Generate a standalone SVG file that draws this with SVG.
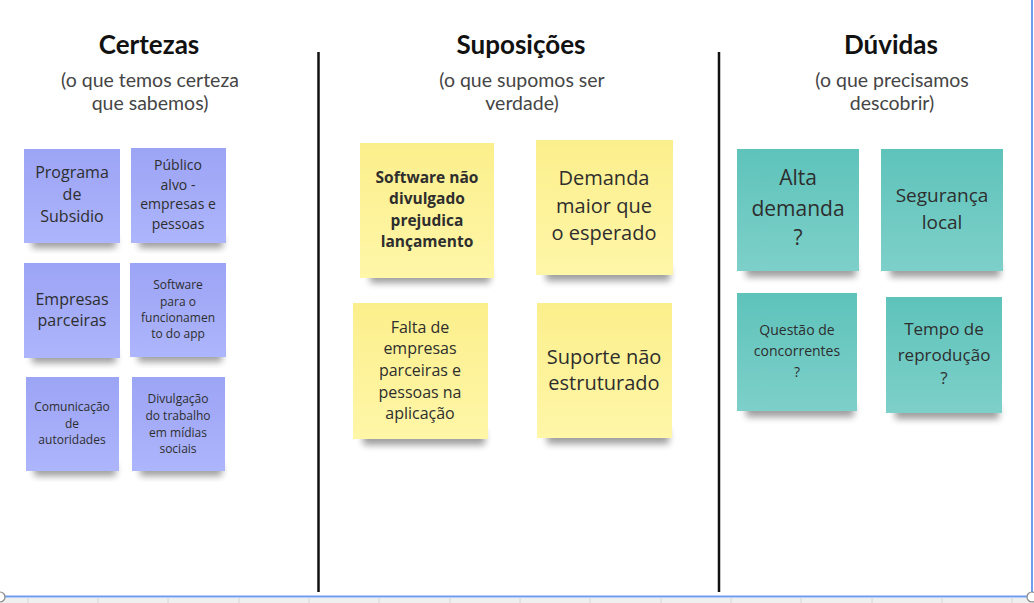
<svg xmlns="http://www.w3.org/2000/svg" width="1034" height="603" viewBox="0 0 1034 603">
<defs>
<linearGradient id="gP" x1="0" y1="0" x2="0" y2="1"><stop offset="0" stop-color="#9ca4f5"/><stop offset="1" stop-color="#adb5fc"/></linearGradient>
<linearGradient id="gY" x1="0" y1="0" x2="0" y2="1"><stop offset="0" stop-color="#fbef8c"/><stop offset="1" stop-color="#fff6a8"/></linearGradient>
<linearGradient id="gT" x1="0" y1="0" x2="0" y2="1"><stop offset="0" stop-color="#5ec3bb"/><stop offset="1" stop-color="#7dd0c9"/></linearGradient>
<filter id="sh" x="-20%" y="-50%" width="140%" height="200%"><feGaussianBlur stdDeviation="3.5"/></filter>
<style>
.shadow{fill:#000;opacity:0.38;filter:url(#sh)}
.np{fill:url(#gP)}
.ny{fill:url(#gY)}
.nt{fill:url(#gT)}
.t{font-family:"Open Sans","Noto Sans",sans-serif;fill:#2e2e2e;text-anchor:middle}
.h{font-family:Lato,"Liberation Sans",sans-serif;font-weight:bold;font-size:26px;fill:#111;text-anchor:middle}
.s{font-family:Lato,"Liberation Sans",sans-serif;font-size:19.5px;fill:#454545;text-anchor:middle}
.div{stroke:#111;stroke-width:2.5}
</style>
</defs>
<rect x="0" y="0" width="1034" height="603" fill="#ffffff"/>
<!-- bottom grid strip -->
<rect x="0" y="598" width="1034" height="5" fill="#efefef"/>
<g stroke="#d6d6d6" stroke-width="1">
<line x1="28" y1="598" x2="28" y2="603"/><line x1="98" y1="598" x2="98" y2="603"/><line x1="168" y1="598" x2="168" y2="603"/><line x1="239" y1="598" x2="239" y2="603"/><line x1="309" y1="598" x2="309" y2="603"/><line x1="379" y1="598" x2="379" y2="603"/><line x1="450" y1="598" x2="450" y2="603"/><line x1="520" y1="598" x2="520" y2="603"/><line x1="590" y1="598" x2="590" y2="603"/><line x1="661" y1="598" x2="661" y2="603"/><line x1="731" y1="598" x2="731" y2="603"/><line x1="801" y1="598" x2="801" y2="603"/><line x1="872" y1="598" x2="872" y2="603"/><line x1="942" y1="598" x2="942" y2="603"/><line x1="1012" y1="598" x2="1012" y2="603"/>
</g>
<!-- headers -->
<g id="header-certezas">
<text class="h" x="149" y="54">Certezas</text>
<text class="s" x="150" y="87">(o que temos certeza</text>
<text class="s" x="150" y="110">que sabemos)</text>
</g>
<g id="header-suposicoes">
<text class="h" x="521" y="54">Suposições</text>
<text class="s" x="522" y="87">(o que supomos ser</text>
<text class="s" x="522" y="110">verdade)</text>
</g>
<g id="header-duvidas">
<text class="h" x="891" y="54">Dúvidas</text>
<text class="s" x="892" y="87">(o que precisamos</text>
<text class="s" x="892" y="110">descobrir)</text>
</g>
<!-- dividers -->
<g id="dividers">
<line class="div" x1="318.5" y1="52" x2="318.5" y2="592"/>
<line class="div" x1="719" y1="52" x2="719" y2="592"/>
</g>
<!-- Certezas notes -->
<g id="n-programa">
<rect class="shadow" x="32" y="236" width="84" height="12"/>
<rect class="np" x="24" y="149" width="96" height="94"/>
<text class="t" font-size="16" x="72" y="178">Programa</text>
<text class="t" font-size="16" x="72" y="200">de</text>
<text class="t" font-size="16" x="72" y="222">Subsidio</text>
</g>
<g id="n-publico">
<rect class="shadow" x="139" y="236" width="84" height="12"/>
<rect class="np" x="131" y="148" width="95" height="95"/>
<text class="t" font-size="14" x="178" y="170">Público</text>
<text class="t" font-size="14" x="178" y="190">alvo -</text>
<text class="t" font-size="14" x="178" y="209">empresas e</text>
<text class="t" font-size="14" x="178" y="229">pessoas</text>
</g>
<g id="n-empresas">
<rect class="shadow" x="32" y="351" width="84" height="12"/>
<rect class="np" x="24" y="263" width="96" height="95"/>
<text class="t" font-size="16" x="72" y="305">Empresas</text>
<text class="t" font-size="16" x="72" y="326">parceiras</text>
</g>
<g id="n-software">
<rect class="shadow" x="138" y="350" width="84" height="12"/>
<rect class="np" x="130" y="263" width="96" height="94"/>
<text class="t" font-size="12" x="178" y="289">Software</text>
<text class="t" font-size="12" x="178" y="306">para o</text>
<text class="t" font-size="12" x="178" y="322">funcionamen</text>
<text class="t" font-size="12" x="178" y="338">to do app</text>
</g>
<g id="n-comunicacao">
<rect class="shadow" x="34" y="464" width="82" height="12"/>
<rect class="np" x="26" y="377" width="93" height="94"/>
<text class="t" font-size="12" x="72" y="411">Comunicação</text>
<text class="t" font-size="12" x="72" y="428">de</text>
<text class="t" font-size="12" x="72" y="444">autoridades</text>
</g>
<g id="n-divulgacao">
<rect class="shadow" x="140" y="464" width="82" height="12"/>
<rect class="np" x="132" y="377" width="93" height="94"/>
<text class="t" font-size="12" x="178" y="403">Divulgação</text>
<text class="t" font-size="12" x="178" y="420">do trabalho</text>
<text class="t" font-size="12" x="178" y="437">em mídias</text>
<text class="t" font-size="12" x="178" y="453">sociais</text>
</g>
<!-- Suposicoes notes -->
<g id="n-software-nao">
<rect class="shadow" x="370" y="269" width="120" height="14"/>
<rect class="ny" x="360" y="143" width="134" height="135"/>
<text class="t" font-size="15.5" font-weight="bold" x="427" y="183">Software não</text>
<text class="t" font-size="15.5" font-weight="bold" x="427" y="204">divulgado</text>
<text class="t" font-size="15.5" font-weight="bold" x="427" y="226">prejudica</text>
<text class="t" font-size="15.5" font-weight="bold" x="427" y="247">lançamento</text>
</g>
<g id="n-demanda">
<rect class="shadow" x="546" y="267" width="124" height="14"/>
<rect class="ny" x="536" y="140" width="137" height="135"/>
<text class="t" font-size="20" x="604" y="185">Demanda</text>
<text class="t" font-size="20" x="604" y="213">maior que</text>
<text class="t" font-size="20" x="604" y="240">o esperado</text>
</g>
<g id="n-falta">
<rect class="shadow" x="363" y="431" width="122" height="14"/>
<rect class="ny" x="353" y="303" width="135" height="136"/>
<text class="t" font-size="16" x="420" y="333">Falta de</text>
<text class="t" font-size="16" x="420" y="354">empresas</text>
<text class="t" font-size="16" x="420" y="376">parceiras e</text>
<text class="t" font-size="16" x="420" y="398">pessoas na</text>
<text class="t" font-size="16" x="420" y="419">aplicação</text>
</g>
<g id="n-suporte">
<rect class="shadow" x="547" y="430" width="122" height="14"/>
<rect class="ny" x="537" y="303" width="135" height="135"/>
<text class="t" font-size="20" x="604" y="364">Suporte não</text>
<text class="t" font-size="20" x="604" y="390">estruturado</text>
</g>
<!-- Duvidas notes -->
<g id="n-alta">
<rect class="shadow" x="746" y="263" width="110" height="14"/>
<rect class="nt" x="737" y="149" width="122" height="122"/>
<text class="t" font-size="21" x="798" y="185">Alta</text>
<text class="t" font-size="21" x="798" y="216">demanda</text>
<text class="t" font-size="21" x="798" y="245">?</text>
</g>
<g id="n-seguranca">
<rect class="shadow" x="890" y="263" width="110" height="14"/>
<rect class="nt" x="881" y="149" width="122" height="122"/>
<text class="t" font-size="19" x="942" y="202">Segurança</text>
<text class="t" font-size="19" x="942" y="229">local</text>
</g>
<g id="n-questao">
<rect class="shadow" x="746" y="403" width="108" height="14"/>
<rect class="nt" x="737" y="293" width="120" height="118"/>
<text class="t" font-size="14" x="797" y="335">Questão de</text>
<text class="t" font-size="14" x="797" y="356">concorrentes</text>
<text class="t" font-size="14" x="797" y="377">?</text>
</g>
<g id="n-tempo">
<rect class="shadow" x="895" y="405" width="104" height="14"/>
<rect class="nt" x="886" y="297" width="116" height="116"/>
<text class="t" font-size="17" x="944" y="335">Tempo de</text>
<text class="t" font-size="17" x="944" y="361">reprodução</text>
<text class="t" font-size="17" x="944" y="384">?</text>
</g>
<!-- selection frame -->
<g id="selection" fill="none" stroke="#6f9cf0" stroke-width="2">
<line x1="1032" y1="0" x2="1032" y2="597"/>
<line x1="0" y1="596.5" x2="1032" y2="596.5"/>
<circle cx="0" cy="597" r="5" fill="#fff" stroke="#888" stroke-width="1.2"/>
<circle cx="1032" cy="597" r="5" fill="#fff" stroke="#888" stroke-width="1.2"/>
</g>
</svg>
